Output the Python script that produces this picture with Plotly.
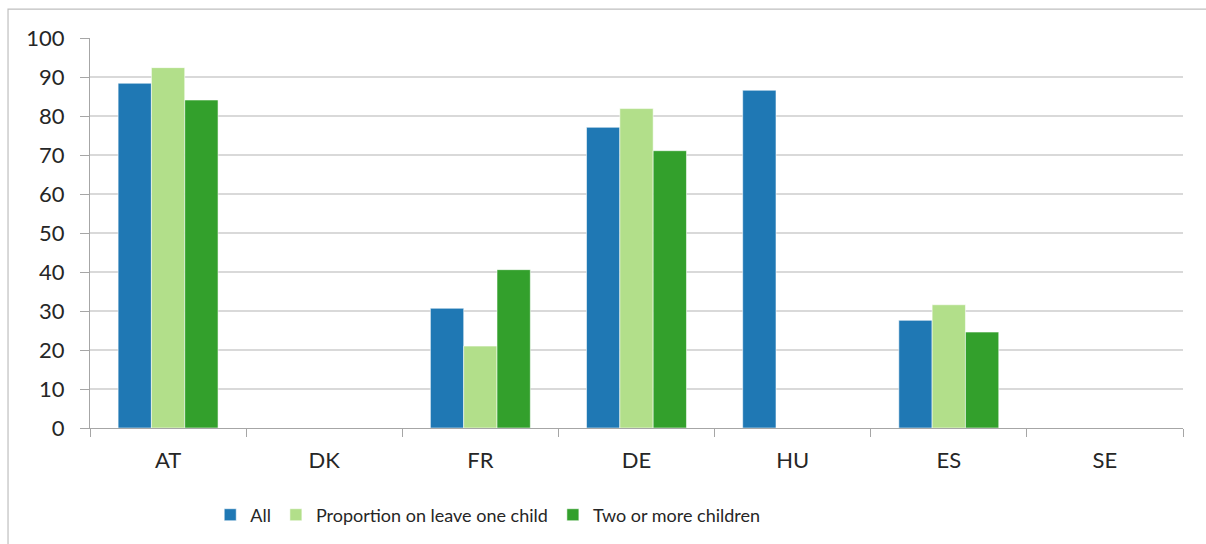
import plotly.graph_objects as go

# Countries on the category axis
countries = ["AT", "DK", "FR", "DE", "HU", "ES", "SE"]

# Share of parents taking leave (%), None where no figure is reported
all_parents = [88.4, None, 30.7, 77.1, 86.6, 27.6, None]
one_child = [92.4, None, 21.0, 81.9, None, 31.6, None]
two_plus_children = [84.1, None, 40.6, 71.1, None, 24.6, None]

series_names = ["All", "Proportion on leave one child", "Two or more children"]
series_colors = ["#1f78b4", "#b2df8a", "#33a02c"]
series_values = [all_parents, one_child, two_plus_children]

y_ticks = [0, 10, 20, 30, 40, 50, 60, 70, 80, 90, 100]

fig = go.Figure()
for name, color, values in zip(series_names, series_colors, series_values):
    fig.add_trace(go.Bar(
        x=countries,
        y=values,
        name=name,
        marker=dict(color=color, line=dict(color="rgba(255,255,255,0.55)", width=1)),
    ))

tick_font = dict(family="Lato, 'Open Sans', sans-serif", size=22, color="#262626")

fig.update_layout(
    width=1206,
    height=544,
    margin=dict(l=90, r=23, t=38, b=115),
    paper_bgcolor="white",
    plot_bgcolor="white",
    barmode="group",
    bargap=0.36,
    bargroupgap=0,
    showlegend=True,
    legend=dict(
        orientation="h",
        x=0.11,
        xanchor="left",
        y=-0.22,
        yanchor="middle",
        font=dict(family="Lato, sans-serif", size=18, color="#262626"),
        itemwidth=30,
        traceorder="normal",
    ),
    xaxis=dict(
        type="category",
        showgrid=False,
        showline=True,
        linecolor="#a6a6a6",
        linewidth=1.2,
        ticks="outside",
        tickson="boundaries",
        ticklen=8,
        tickcolor="#a6a6a6",
        tickfont=tick_font,
        ticklabelstandoff=12,
    ),
    yaxis=dict(
        range=[0, 100],
        tickvals=y_ticks,
        showgrid=True,
        gridcolor="#d9d9d9",
        gridwidth=1.5,
        showline=True,
        linecolor="#a6a6a6",
        linewidth=1.2,
        ticks="outside",
        ticklen=9,
        tickcolor="#a6a6a6",
        tickfont=tick_font,
        ticklabelstandoff=11,
        zeroline=False,
    ),
)

# Chart-area frame (right and bottom edges run past the page)
fig.add_shape(
    type="rect",
    xref="paper", yref="paper",
    x0=-0.075, x1=1.06, y0=-0.35, y1=1.074,
    line=dict(color="#bfbfbf", width=1.2),
    fillcolor="rgba(0,0,0,0)",
    layer="below",
)

fig.write_html("out.html")
